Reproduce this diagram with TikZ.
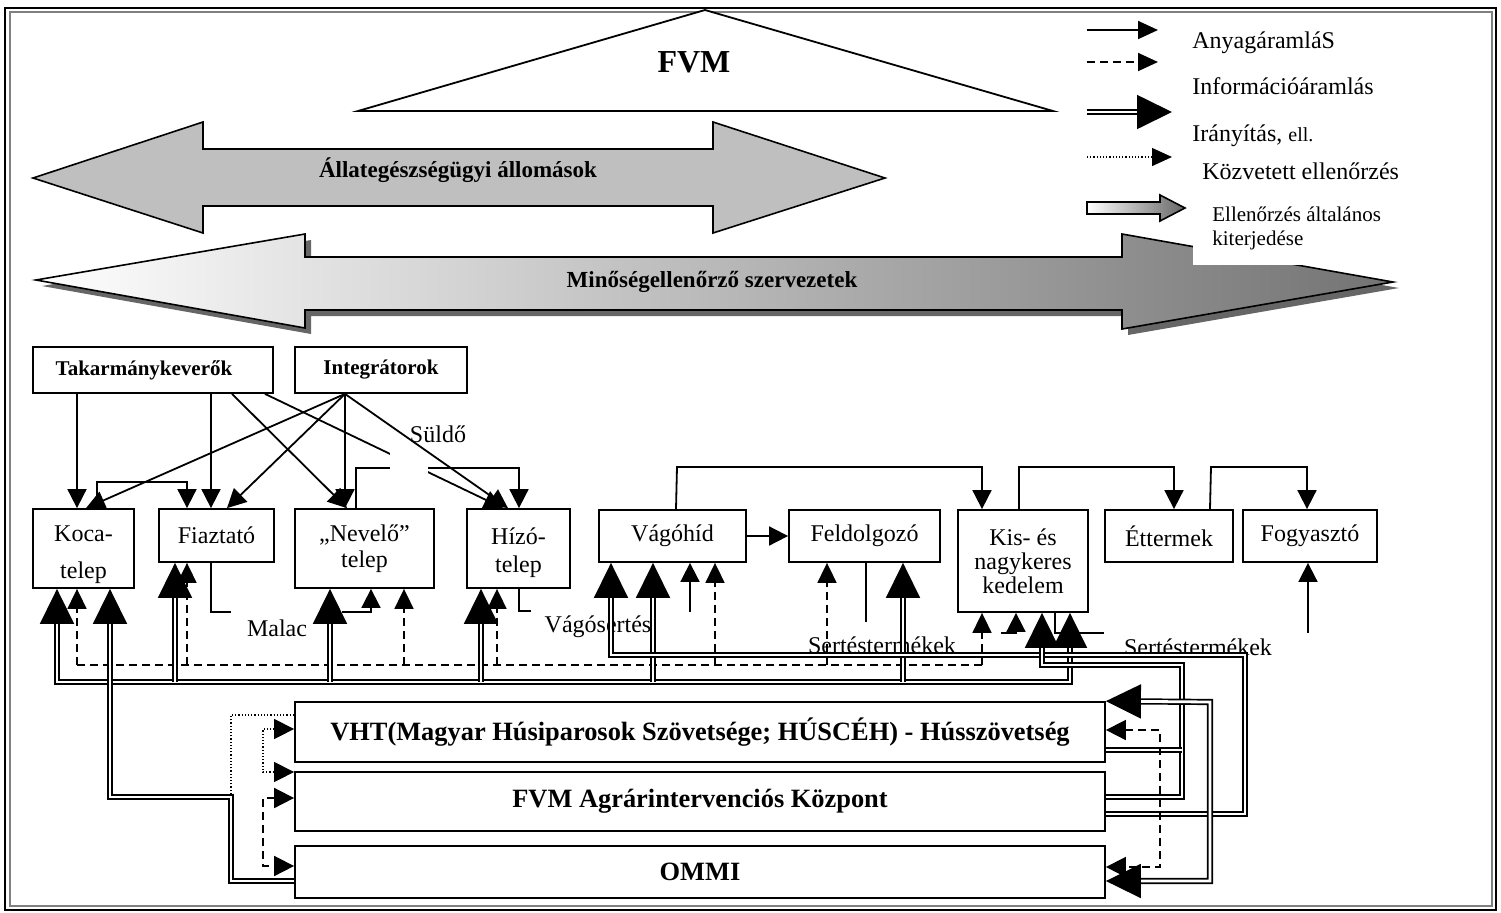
\documentclass[tikz,border=0pt]{standalone}
\usepackage{fontspec}
\setmainfont{Liberation Serif}
\usetikzlibrary{arrows.meta,calc}
\newcommand{\myfs}[2]{\fontsize{#1pt}{#2pt}\selectfont}
\begin{document}
\begin{tikzpicture}[x=0.5pt,y=-0.5pt,
  box/.style={draw,line width=0.9pt,fill=white,inner sep=0pt,align=center,font=\myfs{12}{13}},
  sz/.style 2 args={minimum width=#1*0.5pt,minimum height=#2*0.5pt},
  ln/.style={line width=0.9pt},
  sa/.style={-{Triangle[length=9.5pt,width=9.5pt]}},
  sab/.style={{Triangle[length=10pt,width=10pt]}-{Triangle[length=10pt,width=10pt]}},
  dsh/.style={line width=0.9pt,dash pattern=on 4pt off 2.5pt},
  dtt/.style={line width=0.7pt,dash pattern=on 0.6pt off 1pt},
  dbl/.style={line width=0.85pt,double=white,double distance=1.4pt},
  bt/.style={-{Triangle[length=17.5pt,width=17pt]}},
  btb/.style={{Triangle[length=17.5pt,width=17pt]}-{Triangle[length=17.5pt,width=17pt]}},
  lbl/.style={inner sep=0pt,font=\myfs{12}{14}},
  bigbf/.style={font=\myfs{11.5}{13}\bfseries},
  bbox/.style={box,font=\myfs{13.2}{15}\bfseries},
]
\useasboundingbox (0,0) rectangle (1501,912);
% frame
\draw[line width=0.9pt] (5,8) rectangle (1496,910);
\draw[gray,line width=0.8pt] (10,12) rectangle (1492,906);
% FVM triangle
\draw[line width=0.9pt,fill=white] (705,10) -- (1053,111) -- (358,111) -- cycle;
\node[font=\myfs{16}{18}\bfseries] (fvm) at (694,62) {FVM};
% Allategeszsegugyi arrow
\draw[line width=0.8pt,fill=black!25] (33,178) -- (203,122) -- (203,149) -- (713,149) -- (713,122) -- (885,178) -- (713,233) -- (713,206) -- (203,206) -- (203,233) -- cycle;
\node[bigbf] (allat) at (458,170) {Állategészségügyi állomások};
% Minosegellenorzo arrow with shadow
\fill[black!60] (42,286) -- (311,240) -- (311,263) -- (1128,263) -- (1128,240) -- (1399,288) -- (1128,335) -- (1128,316) -- (311,316) -- (311,334) -- cycle;
\draw[line width=0.8pt,left color=white,right color=black!55] (36,280) -- (305,234) -- (305,257) -- (1122,257) -- (1122,234) -- (1393,282) -- (1122,329) -- (1122,310) -- (305,310) -- (305,328) -- cycle;
\node[bigbf] (minoseg) at (712,282) {Minőségellenőrző szervezetek};
% legend
\fill[white] (1193,196) rectangle (1420,265);
\coordinate (l1a) at (1087,30); \coordinate (l1b) at (1158,30);
\coordinate (l2a) at (1087,62); \coordinate (l2b) at (1158,62);
\coordinate (l3a) at (1087,112); \coordinate (l3b) at (1172,112);
\coordinate (l4a) at (1087,157); \coordinate (l4b) at (1172,157);
\draw[ln,-{Triangle[length=10pt,width=9pt]}] (l1a) -- (l1b);
\draw[dsh,-{Triangle[length=10pt,width=9pt]}] (l2a) -- (l2b);
\draw[dbl,bt] (l3a) -- (l3b);
\draw[dtt,-{Triangle[length=10pt,width=9pt]}] (l4a) -- (l4b);
\draw[line width=0.8pt,left color=white,right color=black!60] (1087,202) -- (1160,202) -- (1160,195) -- (1185,208) -- (1160,221) -- (1160,214) -- (1087,214) -- cycle;
\node[lbl,anchor=west] (t1) at (1192,43) {AnyagáramláS};
\node[lbl,anchor=west] (t2) at (1192,86) {Információáramlás};
\node[lbl,anchor=west] (t3) at (1192,136) {Irányítás, {\myfs{10}{12}ell.}};
\node[lbl,anchor=west] (t4) at (1202,171) {Közvetett ellenőrzés};
\node[lbl,anchor=north west,align=left,font=\myfs{10.5}{12}] (t5) at (1212,206) {Ellenőrzés általános\\kiterjedése};
% boxes
\node[box,sz={240}{46},font=\myfs{10.5}{12}\bfseries] (takar) at (153,370) {Takarmánykeverők\hspace*{9pt}};
\node[box,sz={172}{46},font=\myfs{10.5}{12}\bfseries] (integr) at (381,370) {Integrátorok};
\node[box,sz={101}{79},label={[lbl,align=center,yshift=-3pt]center:{Koca-\\[4.5pt]telep}}] (koca) at (83.5,548.5) {};
\node[box,sz={115}{53}] (fiaz) at (216.5,535.5) {Fiaztató};
\node[box,sz={139}{79}] (nevelo) at (364.5,548.5) {„Nevelő”\\telep};
\node[box,sz={103}{79},label={[lbl,align=center,yshift=-2pt]center:{Hízó-\\telep}}] (hizo) at (518.5,548.5) {};
\node[box,sz={147}{52}] (vago) at (672.5,536) {Vágóhíd};
\node[box,sz={151}{52}] (feld) at (864.5,536) {Feldolgozó};
\node[box,sz={130}{102},font=\myfs{12}{12}] (kis) at (1023,561) {Kis- és\\nagykeres\\kedelem};
\node[box,sz={128}{52}] (etterm) at (1169,536) {Éttermek};
\node[box,sz={134}{52}] (fogy) at (1310,536) {Fogyasztó};
\node[bbox,sz={810}{60}] (vht) at (700,732) {VHT(Magyar Húsiparosok Szövetsége; HÚSCÉH) - Hússzövetség};
\node[bbox,sz={810}{59}] (agrar) at (700,801.5) {FVM Agrárintervenciós Központ};
\node[bbox,sz={810}{52}] (ommi) at (700,872) {OMMI};
% top connectors
\draw[ln,sa] (77,0 |- takar.south) -- (77,0 |- koca.north);
\draw[ln,sa] (211,0 |- takar.south) -- (211,0 |- fiaz.north);
\draw[ln,sa] (232,0 |- takar.south) -- (347,0 |- nevelo.north);
\draw[ln,sa] (265,0 |- takar.south) -- (503,0 |- hizo.north);
\draw[ln,sa] (97,0 |- koca.north) -- (97,482) -- (187,482) -- (187,0 |- fiaz.north);
\draw[ln,sa] (356,0 |- nevelo.north) -- (356,468) -- (519,468) -- (519,0 |- hizo.north);
\fill[white] (390,446) rectangle (428,473);
\coordinate (ip) at (345,0 |- integr.south);
\draw[ln,sa] (ip) -- (86,0 |- koca.north);
\draw[ln,sa] (ip) -- (227,0 |- fiaz.north);
\draw[ln,sa] (ip) -- (345,0 |- nevelo.north);
\draw[ln,sa] (ip) -- (508,0 |- hizo.north);
\draw[ln,sa] (676,0 |- vago.north) -- (677,467) -- (982,467) -- (982,0 |- kis.north);
\draw[ln,sa] (1019,0 |- kis.north) -- (1019,467) -- (1174,467) -- (1174,0 |- etterm.north);
\draw[ln,sa] (1210,0 |- etterm.north) -- (1211,467) -- (1307,467) -- (1307,0 |- fogy.north);
\draw[ln,sa] (vago.east) -- (feld.west);
% labels
\node[lbl] (suldo) at (438,434) {Süldő};
\node[lbl] (malac) at (277,628) {Malac};
\node[lbl] (vagos) at (598,627) {Vágósertés};
\node[lbl] (sert1) at (882,645) {Sertéstermékek};
\node[lbl] (sert2) at (1198,647) {Sertéstermékek};
% material flows below boxes
\coordinate (m1) at (231,612); \coordinate (m2) at (342,612);
\coordinate (v1) at (531,611); \coordinate (v2) at (690,612);
\coordinate (s1) at (866,622); \coordinate (s2) at (1001,633);
\coordinate (s3) at (1104,633); \coordinate (s4) at (1308,633);
\draw[ln] (211,0 |- fiaz.south) -- (211,612) -- (m1);
\draw[ln,sa] (m2) -- (371,612) -- (371,0 |- nevelo.south);
\draw[ln] (519,0 |- hizo.south) -- (519,611) -- (v1);
\draw[ln,sa] (v2) -- (690,0 |- vago.south);
\draw[ln] (866,0 |- feld.south) -- (s1);
\draw[ln,sa] (s2) -- (1016,633) -- (1016,0 |- kis.south);
\draw[ln] (1055,0 |- kis.south) -- (1055,633) -- (s3);
\draw[ln,sa] (s4) -- (1308,0 |- fogy.south);
% information bus (dashed)
\draw[dsh] (77,665) -- (982,665);
\foreach \x/\n in {77/koca,187/fiaz,404/nevelo,497/hizo,715/vago,827/feld,982/kis}
  \draw[dsh,-{Triangle[length=10pt,width=9.5pt]}] (\x,665) -- (\x,0 |- \n.south);
% control bus (double)
\draw[dbl,btb] (57,0 |- koca.south) -- (57,682) -- (1070,682) -- (1070,0 |- kis.south);
\foreach \x/\n in {175/fiaz,330/nevelo,481/hizo,653/vago,903/feld}
  \draw[dbl,bt] (\x,682) -- (\x,0 |- \n.south);
\draw[dbl,bt] (ommi.west |- 0,881) -- (231,881) -- (231,797) -- (110,797) -- (110,0 |- koca.south);
\draw[dbl,bt] (agrar.east |- 0,814) -- (1245,814) -- (1245,655) -- (611,655) -- (611,0 |- vago.south);
\draw[dbl,bt] (agrar.east |- 0,797) -- (1182,797) -- (1182,665) -- (1042,665) -- (1042,0 |- kis.south);
\draw[dbl] (vht.east |- 0,750) -- (1182,750);
\draw[dbl,btb] (vht.north east) -- (1210,702) -- (1210,881) -- (ommi.east |- 0,881);
% dashed / dotted around bottom boxes
\draw[dsh,sab] (vht.east |- 0,730) -- (1160,730) -- (1160,867) -- (ommi.east |- 0,867);
\draw[dsh,sab] (agrar.west |- 0,798) -- (263,798) -- (263,866) -- (ommi.west |- 0,866);
\draw[dtt,sab] (vht.west |- 0,729) -- (263,729) -- (263,772) -- (agrar.west |- 0,772);
\draw[dtt] (231,794) -- (231,715) -- (vht.west |- 0,715);
\end{tikzpicture}
\end{document}
